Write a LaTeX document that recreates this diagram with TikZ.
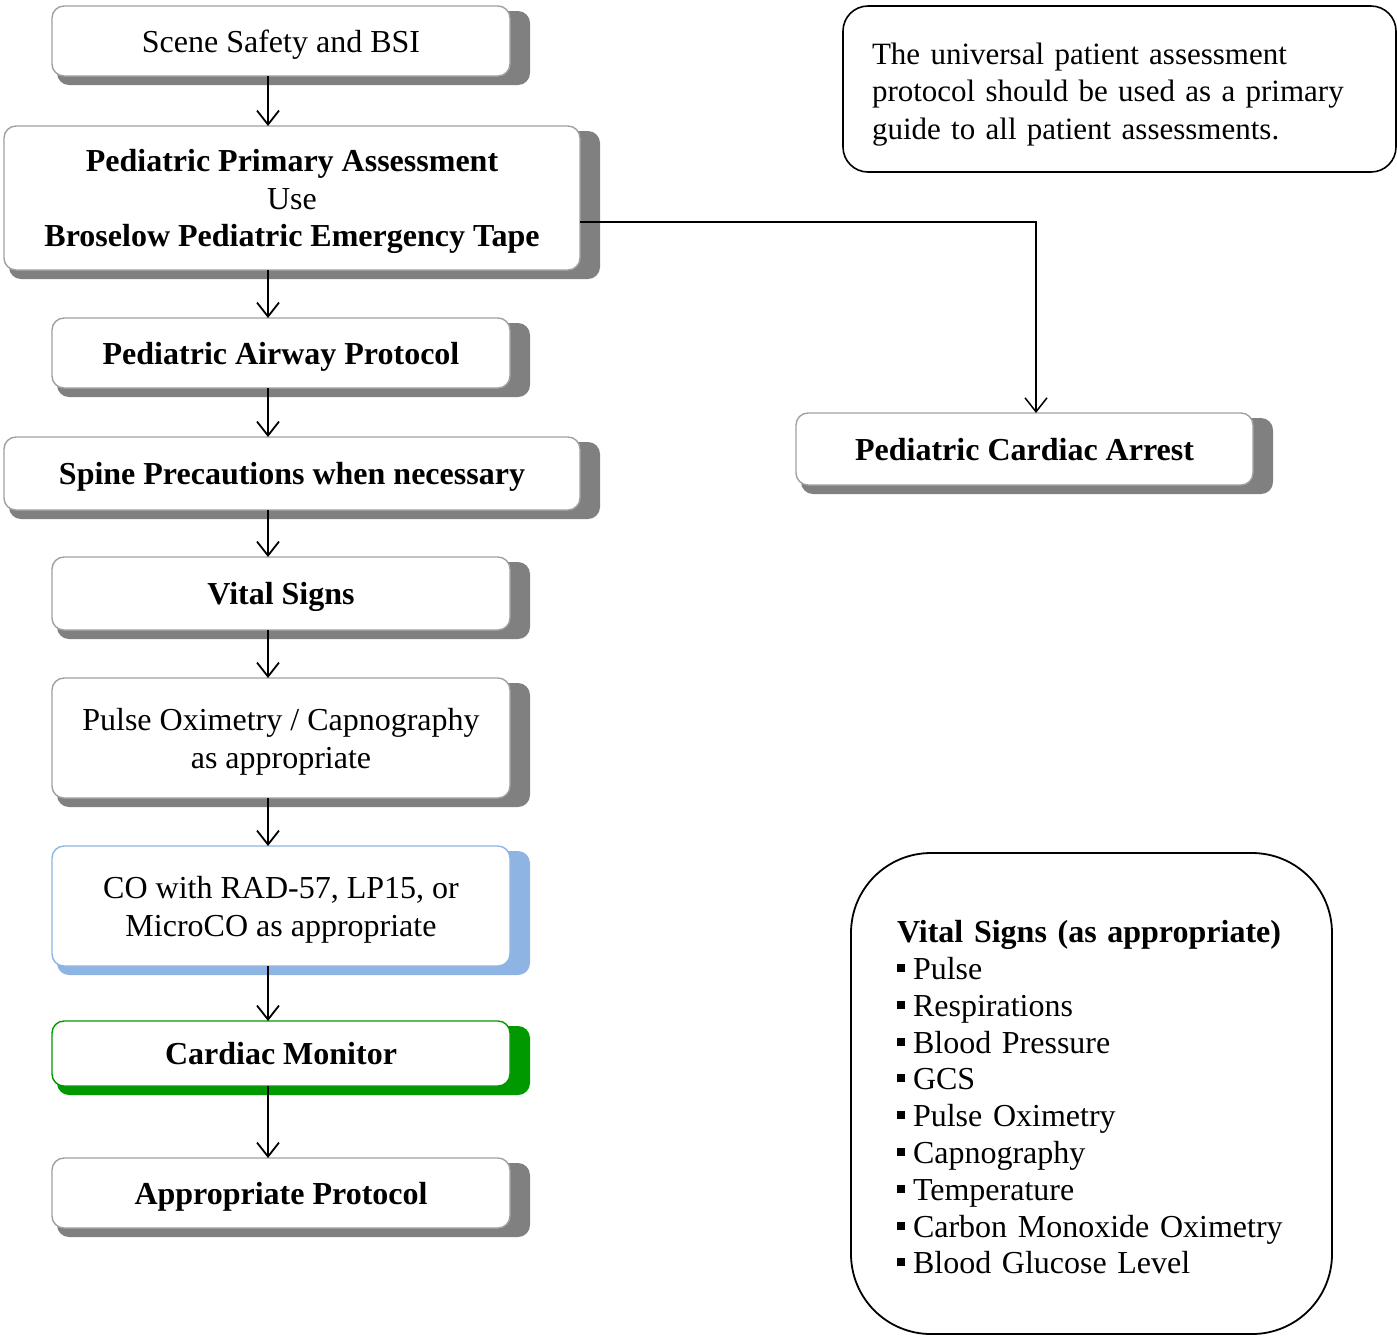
\documentclass[tikz,border=0pt]{standalone}
\usepackage{fontspec}
\setmainfont{Liberation Serif}
\usetikzlibrary{positioning,arrows.meta,backgrounds}

\definecolor{shadegray}{HTML}{808080}
\definecolor{edgegray}{HTML}{A0A0A0}
\definecolor{coblue}{HTML}{8EB4E3}
\definecolor{ecggreen}{HTML}{009900}

\newcommand{\bul}{\rule[3.8pt]{4pt}{4pt}\hspace{4pt}}
\newcommand{\topline}[1]{\rule{0pt}{#1}}

\begin{document}
\begin{tikzpicture}[
  x=0.5pt, y=-0.5pt,
  font=\fontsize{16}{18.75}\selectfont,
  stepbox/.style={draw=edgegray, fill=white, rounded corners=6pt, line width=0.7pt,
    align=center, minimum width=229pt, minimum height=35pt, inner sep=0pt, outer sep=0pt},
  oneline/.style={text depth=0pt},
  widebox/.style={stepbox, minimum width=288pt},
  notebox/.style={draw, rounded corners=12.5pt, line width=0.8pt, align=left,
    font=\fontsize{15.5}{18.75}\selectfont,
    text width=247.5pt, inner xsep=14.5pt, minimum height=83pt},
  listbox/.style={draw, rounded corners=40pt, line width=0.9pt, align=left,
    font=\fontsize{16}{18.4}\selectfont,
    text width=194.5pt, inner xsep=23pt, minimum height=240.5pt},
  arr/.style={-{Straight Barb[length=7pt,width=11pt]}, line width=0.9pt}
]
\useasboundingbox (0,0) rectangle (1397,1335);

% left column
\node[stepbox, oneline] (scene) at (281,41) {Scene Safety and BSI};
\node[widebox, minimum height=72pt, below=25pt of scene, xshift=5.5pt] (primary)
  {\topline{15pt}\textbf{Pediatric Primary Assessment}\\Use\\\textbf{Broselow Pediatric Emergency Tape}};
\node[stepbox, oneline, below=24pt of primary, xshift=-5.5pt] (airway) {\textbf{Pediatric Airway Protocol}};
\node[widebox, oneline, minimum height=36.5pt, below=24.5pt of airway, xshift=5.5pt] (spine)
  {\textbf{Spine Precautions when necessary}};
\node[stepbox, oneline, minimum height=36.5pt, below=23.5pt of spine, xshift=-5.5pt] (vitals) {\textbf{Vital Signs}};
\node[stepbox, minimum height=60pt, below=24pt of vitals] (pulseox)
  {\topline{15pt}Pulse Oximetry / Capnography\\as appropriate};
\node[stepbox, draw=coblue, minimum height=60pt, below=24pt of pulseox] (co)
  {\topline{15pt}CO with RAD-57, LP15, or\\MicroCO as appropriate};
\node[stepbox, oneline, draw=ecggreen, minimum height=32.5pt, below=27.5pt of co] (monitor) {\textbf{Cardiac Monitor}};
\node[stepbox, oneline, below=36pt of monitor] (protocol) {\textbf{Appropriate Protocol}};

% right side
\node[notebox] (note) at (1119.5,89)
  {\topline{16pt}The universal patient assessment\\protocol should be used as a primary\\guide to all patient assessments.};
\node[stepbox, oneline, minimum width=228.5pt, minimum height=36pt] (arrest) at (1024.5,449)
  {\textbf{Pediatric Cardiac Arrest}};
\node[listbox] (vitallist) at (1091.5,1093.5)
  {\topline{15pt}\textbf{Vital Signs (as appropriate)}\\
   \bul Pulse\\
   \bul Respirations\\
   \bul Blood Pressure\\
   \bul GCS\\
   \bul Pulse Oximetry\\
   \bul Capnography\\
   \bul Temperature\\
   \bul Carbon Monoxide Oximetry\\
   \bul Blood Glucose Level};

% shadows
\begin{scope}[on background layer]
  \foreach \n/\c in {scene/shadegray, primary/shadegray, airway/shadegray, spine/shadegray,
      vitals/shadegray, pulseox/shadegray, co/coblue, monitor/ecggreen,
      protocol/shadegray, arrest/shadegray}
    \fill[\c, rounded corners=6pt] ([shift={(5,5)}]\n.north west) rectangle ([shift={(20,9)}]\n.south east);
\end{scope}

% arrows
\coordinate (col) at (268,0);
\draw[arr] (scene.south -| col) -- (primary.north -| col);
\draw[arr] (primary.south -| col) -- (airway.north -| col);
\draw[arr] (airway.south -| col) -- (spine.north -| col);
\draw[arr] (spine.south -| col) -- (vitals.north -| col);
\draw[arr] (vitals.south -| col) -- (pulseox.north -| col);
\draw[arr] (pulseox.south -| col) -- (co.north -| col);
\draw[arr] (co.south -| col) -- (monitor.north -| col);
\draw[arr] (monitor.south -| col) -- (protocol.north -| col);
\draw[arr, line width=0.75pt] ([yshift=-12pt]primary.east) -| ([xshift=5.75pt]arrest.north);
\end{tikzpicture}
\end{document}
